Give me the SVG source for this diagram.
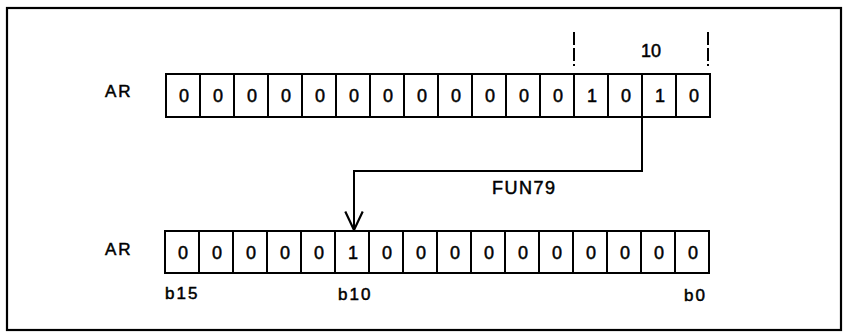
<svg xmlns="http://www.w3.org/2000/svg" width="846" height="334" viewBox="0 0 846 334">
<defs>
<style>
.cell{fill:#fff;stroke:#000;stroke-width:2}
.d{font-family:"Liberation Sans",Arial,sans-serif;font-size:18px;text-anchor:middle;fill:#000;stroke:#000;stroke-width:0.5}
.lbl{font-family:"Liberation Sans",Arial,sans-serif;font-size:17px;fill:#000;stroke:#000;stroke-width:0.5;letter-spacing:2px}
.ln{fill:none;stroke:#000;stroke-width:2}
.tick{fill:none;stroke:#000;stroke-width:2;stroke-dasharray:13 3}
</style>
<marker id="v" markerUnits="userSpaceOnUse" markerWidth="24" markerHeight="24" viewBox="-20 -10 22 20" refX="0" refY="0" orient="auto">
<path d="M-17,-8 L0,0 L-17,8" fill="none" stroke="#000" stroke-width="2"/>
</marker>
</defs>
<rect x="7" y="8" width="834" height="322" fill="#fff" stroke="#000" stroke-width="2.2"/>

<g id="top-register">
<text class="lbl" x="105" y="97">AR</text>
<g id="top-cells">
<rect class="cell" x="166" y="74" width="34" height="43"/>
<rect class="cell" x="200" y="74" width="34" height="43"/>
<rect class="cell" x="234" y="74" width="34" height="43"/>
<rect class="cell" x="268" y="74" width="34" height="43"/>
<rect class="cell" x="302" y="74" width="34" height="43"/>
<rect class="cell" x="336" y="74" width="34" height="43"/>
<rect class="cell" x="370" y="74" width="34" height="43"/>
<rect class="cell" x="404" y="74" width="34" height="43"/>
<rect class="cell" x="438" y="74" width="34" height="43"/>
<rect class="cell" x="472" y="74" width="34" height="43"/>
<rect class="cell" x="506" y="74" width="34" height="43"/>
<rect class="cell" x="540" y="74" width="34" height="43"/>
<rect class="cell" x="574" y="74" width="34" height="43"/>
<rect class="cell" x="608" y="74" width="34" height="43"/>
<rect class="cell" x="642" y="74" width="34" height="43"/>
<rect class="cell" x="676" y="74" width="34" height="43"/>
</g>
<g id="top-digits">
<text class="d" x="184" y="102">0</text>
<text class="d" x="218" y="102">0</text>
<text class="d" x="252" y="102">0</text>
<text class="d" x="286" y="102">0</text>
<text class="d" x="320" y="102">0</text>
<text class="d" x="354" y="102">0</text>
<text class="d" x="388" y="102">0</text>
<text class="d" x="422" y="102">0</text>
<text class="d" x="456" y="102">0</text>
<text class="d" x="490" y="102">0</text>
<text class="d" x="524" y="102">0</text>
<text class="d" x="558" y="102">0</text>
<text class="d" x="592" y="102">1</text>
<text class="d" x="626" y="102">0</text>
<text class="d" x="660" y="102">1</text>
<text class="d" x="694" y="102">0</text>
</g>
</g>

<g id="range-10">
<line class="tick" x1="574" y1="32" x2="574" y2="66"/>
<line class="tick" x1="708" y1="32" x2="708" y2="66"/>
<text class="d" x="651" y="57">10</text>
</g>

<g id="bottom-register">
<text class="lbl" x="105" y="255">AR</text>
<g id="bottom-cells">
<rect class="cell" x="165" y="231" width="34" height="42"/>
<rect class="cell" x="199" y="231" width="34" height="42"/>
<rect class="cell" x="233" y="231" width="34" height="42"/>
<rect class="cell" x="267" y="231" width="34" height="42"/>
<rect class="cell" x="301" y="231" width="34" height="42"/>
<rect class="cell" x="335" y="231" width="34" height="42"/>
<rect class="cell" x="369" y="231" width="34" height="42"/>
<rect class="cell" x="403" y="231" width="34" height="42"/>
<rect class="cell" x="437" y="231" width="34" height="42"/>
<rect class="cell" x="471" y="231" width="34" height="42"/>
<rect class="cell" x="505" y="231" width="34" height="42"/>
<rect class="cell" x="539" y="231" width="34" height="42"/>
<rect class="cell" x="573" y="231" width="34" height="42"/>
<rect class="cell" x="607" y="231" width="34" height="42"/>
<rect class="cell" x="641" y="231" width="34" height="42"/>
<rect class="cell" x="675" y="231" width="34" height="42"/>
</g>
<g id="bottom-digits">
<text class="d" x="183" y="259">0</text>
<text class="d" x="217" y="259">0</text>
<text class="d" x="251" y="259">0</text>
<text class="d" x="285" y="259">0</text>
<text class="d" x="319" y="259">0</text>
<text class="d" x="353" y="259">1</text>
<text class="d" x="387" y="259">0</text>
<text class="d" x="421" y="259">0</text>
<text class="d" x="455" y="259">0</text>
<text class="d" x="489" y="259">0</text>
<text class="d" x="523" y="259">0</text>
<text class="d" x="557" y="259">0</text>
<text class="d" x="591" y="259">0</text>
<text class="d" x="625" y="259">0</text>
<text class="d" x="659" y="259">0</text>
<text class="d" x="693" y="259">0</text>
</g>
<text class="lbl" x="165" y="299">b15</text>
<text class="lbl" x="338" y="300">b10</text>
<text class="lbl" x="684" y="301">b0</text>
</g>

<g id="connectors">
<path class="ln" d="M642,117 V171 H354 V230" marker-end="url(#v)"/>
<text class="lbl" x="492" y="194" style="font-size:18px;letter-spacing:1.5px">FUN79</text>
</g>
</svg>
